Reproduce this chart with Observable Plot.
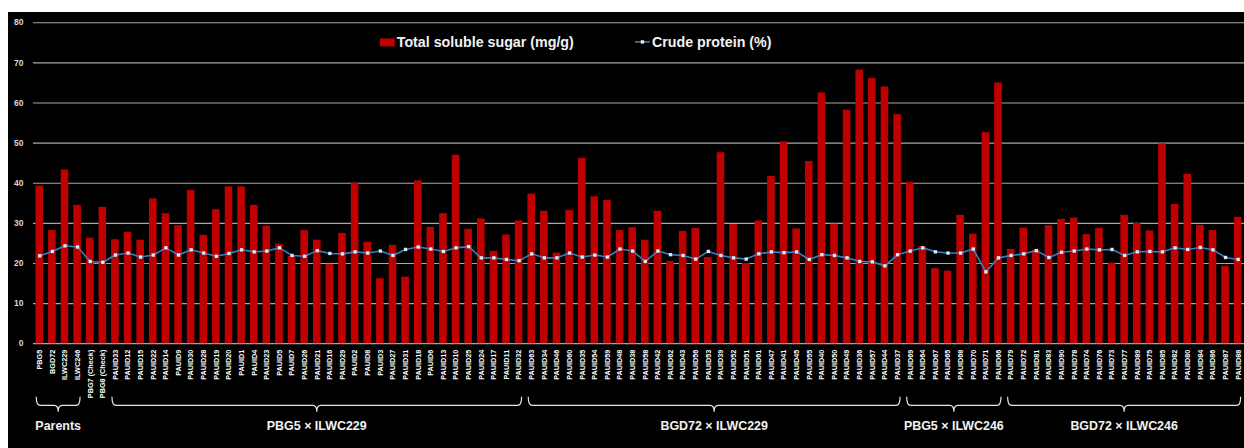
<!DOCTYPE html>
<html>
<head>
<meta charset="utf-8">
<script src="https://cdn.jsdelivr.net/npm/d3@7"></script>
<script src="https://cdn.jsdelivr.net/npm/@observablehq/plot@0.6"></script>
<style>
  html, body { margin: 0; padding: 0; background: #fff; overflow: hidden; }
  #wrap { position: absolute; left: 8px; top: 12px; width: 1236px; height: 436px; overflow: hidden; background: #000; }
  #wrap svg { display: block; }
</style>
</head>
<body>
<div id="wrap"></div>
<script>
// Genotypes in plotting order: parents, checks, then the four cross populations
const genotypes = [
  "PBG5", "BGD72", "ILWC229", "ILWC246", "PBG7 (Check)", "PBG8 (Check)",
  "PAUID33", "PAUID12", "PAUID15", "PAUID22", "PAUID14", "PAUID9", "PAUID30", "PAUID28", "PAUID19", "PAUID20",
  "PAUID1", "PAUID4", "PAUID23", "PAUID5", "PAUID7", "PAUID26", "PAUID21", "PAUID16", "PAUID29", "PAUID2",
  "PAUID8", "PAUID3", "PAUID27", "PAUID31", "PAUID18", "PAUID6", "PAUID13", "PAUID10", "PAUID25", "PAUID24",
  "PAUID17", "PAUID11", "PAUID32",
  "PAUID63", "PAUID34", "PAUID46", "PAUID60", "PAUID35", "PAUID54", "PAUID59", "PAUID48", "PAUID38", "PAUID58",
  "PAUID42", "PAUID62", "PAUID43", "PAUID56", "PAUID53", "PAUID39", "PAUID52", "PAUID51", "PAUID61", "PAUID47",
  "PAUID41", "PAUID45", "PAUID55", "PAUID40", "PAUID50", "PAUID49", "PAUID36", "PAUID57", "PAUID44", "PAUID37",
  "PAUID69", "PAUID64", "PAUID67", "PAUID65", "PAUID68", "PAUID70", "PAUID71", "PAUID66",
  "PAUID79", "PAUID72", "PAUID81", "PAUID83", "PAUID90", "PAUID78", "PAUID74", "PAUID76", "PAUID73", "PAUID77",
  "PAUID89", "PAUID75", "PAUID85", "PAUID82", "PAUID80", "PAUID84", "PAUID86", "PAUID87", "PAUID88"
];

// Total soluble sugar (mg/g)
const sugar = [
  39.3, 28.2, 43.3, 34.5, 26.3, 34.0,
  25.9, 27.8, 25.8, 36.1, 32.4, 29.4, 38.2, 27.0, 33.4, 39.1,
  39.1, 34.5, 29.3, 24.8, 21.8, 28.2, 25.8, 19.8, 27.5, 40.0,
  25.3, 16.2, 24.5, 16.6, 40.6, 29.0, 32.4, 47.0, 28.5, 31.1,
  23.0, 27.1, 30.6,
  37.3, 33.0, 22.6, 33.2, 46.2, 36.6, 35.7, 28.2, 28.9, 25.8,
  33.0, 20.5, 28.0, 28.7, 21.5, 47.6, 29.7, 20.0, 30.6, 41.7,
  50.3, 28.6, 45.4, 62.5, 29.8, 58.2, 68.2, 66.1, 64.0, 57.1,
  40.2, 24.2, 18.7, 18.1, 32.0, 27.3, 52.6, 65.0,
  23.5, 28.8, 23.3, 29.4, 31.0, 31.3, 27.2, 28.7, 20.1, 32.0,
  30.0, 28.1, 49.8, 34.7, 42.2, 29.5, 28.2, 19.3, 31.5
];

// Crude protein (%)
const protein = [
  21.9, 23.0, 24.4, 24.1, 20.5, 20.3,
  22.1, 22.6, 21.6, 22.1, 23.9, 22.1, 23.4, 22.6, 21.8, 22.5,
  23.4, 22.9, 23.1, 23.9, 22.0, 21.8, 23.2, 22.5, 22.4, 22.9,
  22.6, 23.1, 22.0, 23.5, 24.1, 23.6, 23.0, 23.9, 24.2, 21.4,
  21.4, 21.0, 20.7,
  22.4, 21.4, 21.4, 22.6, 21.6, 22.1, 21.6, 23.6, 23.1, 20.5,
  23.1, 22.2, 22.0, 21.1, 23.0, 22.0, 21.4, 21.1, 22.4, 22.9,
  22.7, 22.9, 21.0, 22.2, 22.0, 21.4, 20.5, 20.4, 19.4, 22.2,
  23.1, 23.9, 22.9, 22.6, 22.6, 23.6, 17.9, 21.4,
  22.0, 22.4, 23.2, 21.5, 22.8, 23.1, 23.6, 23.4, 23.5, 22.0,
  22.9, 23.0, 22.9, 23.9, 23.5, 24.0, 23.4, 21.5, 21.0
];

// Population groups shown with braces under the axis
const groupNames = ["Parents", "PBG5 × ILWC229", "BGD72 × ILWC229", "PBG5 × ILWC246", "BGD72 × ILWC246"];
const groupStart = ["PBG5", "PAUID33", "PAUID63", "PAUID69", "PAUID79"];
const groupEnd = ["ILWC246", "PAUID32", "PAUID37", "PAUID66", "PAUID88"];

const yTicks = [0, 10, 20, 30, 40, 50, 60, 70, 80];

const rows = genotypes.map((g, i) => ({genotype: g, sugar: sugar[i], protein: protein[i]}));

const FONT = "'Liberation Sans', Arial, sans-serif";
const step = 12.66;
const marginLeft = 25;

const plot = Plot.plot({
  width: Math.round(marginLeft + genotypes.length * step),
  height: 436,
  marginLeft,
  marginRight: 0,
  marginTop: 10.3,
  marginBottom: 103.7,
  style: {background: "#000", color: "#fff", fontFamily: FONT, overflow: "visible"},
  x: {domain: genotypes, paddingInner: 0.4, paddingOuter: 0.2, label: null},
  y: {domain: [0, 80], label: null},
  marks: [
    Plot.gridY(yTicks, {stroke: "#a8a8a8", strokeOpacity: 1, strokeWidth: 1.2}),
    Plot.axisY(yTicks, {tickSize: 0, tickPadding: 10, fontSize: 8.5, fontWeight: "bold", fill: "#d9d9d9", label: null}),
    Plot.barY(rows, {x: "genotype", y: "sugar", fill: "#c00000"}),
    Plot.line(rows, {x: "genotype", y: "protein", stroke: "#3d7dbb", strokeWidth: 1.6}),
    Plot.dot(rows, {x: "genotype", y: "protein", symbol: "square", r: 1.9, fill: "#dbe8f5", stroke: "none"}),
    Plot.axisX({tickSize: 0, tickPadding: 6, tickRotate: -90, fontSize: 7.3, fontWeight: "bold", fill: "#fff", label: null})
  ]
});

document.getElementById("wrap").append(plot);

// Group braces and labels, positioned from the x scale
const xs = plot.scale("x");
const bw = xs.bandwidth;
const cx = (g) => xs.apply(g) + bw / 2;
const svg = d3.select(plot);
const braces = svg.append("g")
  .attr("fill", "none")
  .attr("stroke", "#e6e6e6")
  .attr("stroke-width", 1.2);
const yTop = 386, yMid = 394.7, yTip = 401;
groupNames.forEach((name, i) => {
  const x0 = cx(groupStart[i]) - 3;
  const x1 = cx(groupEnd[i]) + 3;
  const xc = (x0 + x1) / 2;
  const r = 4;
  braces.append("path").attr("d",
    `M${x0},${yTop} Q${x0},${yMid} ${x0 + r},${yMid} L${xc - r},${yMid} Q${xc},${yMid} ${xc},${yTip}` +
    ` Q${xc},${yMid} ${xc + r},${yMid} L${x1 - r},${yMid} Q${x1},${yMid} ${x1},${yTop}`);
  svg.append("text")
    .attr("x", xc).attr("y", 419.5)
    .attr("text-anchor", "middle")
    .attr("fill", "#f2f2f2")
    .attr("font-family", FONT)
    .attr("font-weight", "bold")
    .attr("font-size", 12.5)
    .text(name);
});

// Legend
const legend = svg.append("g")
  .attr("font-family", FONT)
  .attr("font-weight", "bold")
  .attr("font-size", 14.3)
  .attr("text-anchor", "start")
  .attr("fill", "#f2f2f2");
legend.append("rect").attr("x", 373).attr("y", 26.5).attr("width", 15).attr("height", 8).attr("fill", "#c00000");
legend.append("text").attr("x", 390).attr("y", 35).text("Total soluble sugar (mg/g)");
legend.append("line").attr("x1", 629).attr("x2", 644).attr("y1", 30).attr("y2", 30)
  .attr("stroke", "#3d7dbb").attr("stroke-width", 1.6);
legend.append("rect").attr("x", 634.8).attr("y", 28.3).attr("width", 3.4).attr("height", 3.4).attr("fill", "#dbe8f5");
legend.append("text").attr("x", 646).attr("y", 35).text("Crude protein (%)");
</script>
</body>
</html>
